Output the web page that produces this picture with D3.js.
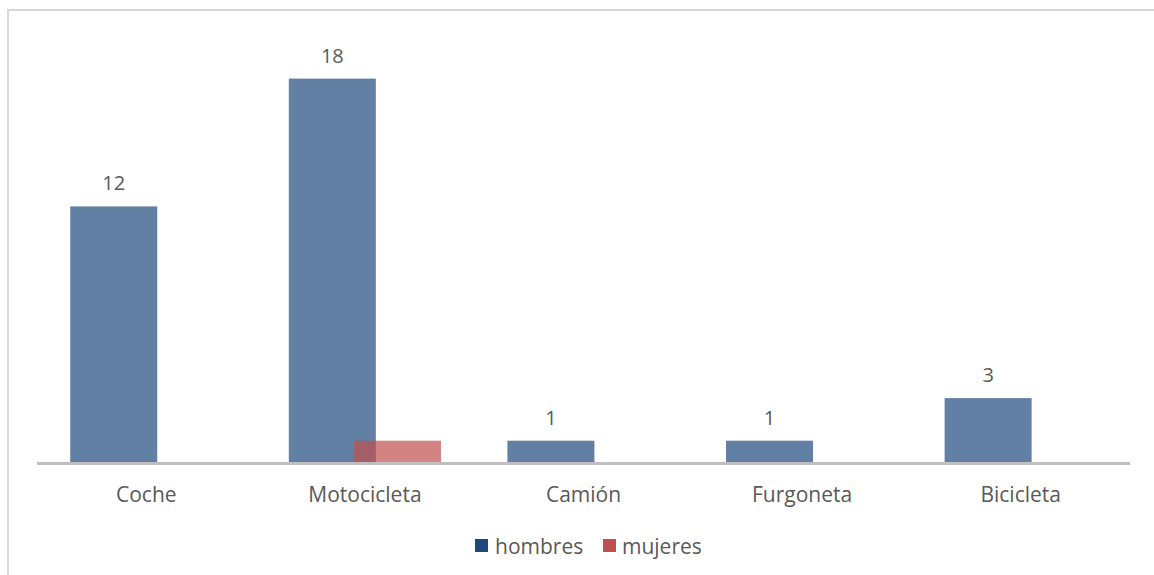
<!DOCTYPE html>
<html><head><meta charset="utf-8">
<script src="https://cdn.jsdelivr.net/npm/d3@7"></script>
<style>html,body{margin:0;padding:0;background:#fff;overflow:hidden}</style>
</head><body>
<svg id="chart" width="1154" height="575"></svg>
<script>
const categories = ["Coche", "Motocicleta", "Camión", "Furgoneta", "Bicicleta"];
const hombres = [12, 18, 1, 1, 3];
const mujeres = [0, 1, 0, 0, 0];
const seriesNames = ["hombres", "mujeres"];
const seriesColors = ["#1f497d", "#c0504d"];

const svg = d3.select("#chart");
const W = 1154, H = 575;
const font = "'Open Sans', sans-serif";
const textColor = "#595959";

// outer border (chart area frame, clipped at right/bottom)
svg.append("rect").attr("x", 8).attr("y", 10).attr("width", W + 10).attr("height", H + 10)
  .attr("fill", "none").attr("stroke", "#d9d9d9").attr("stroke-width", 2);

const x = d3.scaleBand().domain(categories).range([37, 1130]);
const y = d3.scaleLinear().domain([0, 20]).range([462, 36]);
const barW = x.bandwidth() * 0.398;
const off = x.bandwidth() * 0.149;

const series = [hombres, mujeres];
series.forEach((vals, si) => {
  const dx = si === 0 ? -off : off;
  svg.append("g").selectAll("rect").data(categories).join("rect")
    .attr("x", (c) => x(c) + x.bandwidth() / 2 + dx - barW / 2)
    .attr("y", (c, i) => y(vals[i]))
    .attr("width", barW)
    .attr("height", (c, i) => y(0) - y(vals[i]))
    .attr("fill", seriesColors[si])
    .attr("fill-opacity", 0.7);
});

// value labels (hombres)
svg.append("g").selectAll("text").data(categories).join("text")
  .attr("x", (c) => x(c) + x.bandwidth() / 2 - off)
  .attr("y", (c, i) => y(hombres[i]) - 16)
  .attr("text-anchor", "middle")
  .attr("font-family", font).attr("font-size", 20).attr("fill", textColor)
  .text((c, i) => hombres[i]);

// x axis
const xAxis = svg.append("g").attr("transform", `translate(0,${y(0)})`)
  .call(d3.axisBottom(x).tickSize(0).tickPadding(0));
xAxis.select(".domain").attr("stroke", "#bfbfbf").attr("stroke-width", 3)
  .attr("d", `M37,1.5H1130`);
xAxis.selectAll(".tick text").attr("dy", null).attr("y", 40)
  .attr("font-family", font).attr("font-size", 21).attr("fill", textColor);

// legend
const legendItems = [{x: 475, tx: 495}, {x: 603, tx: 622}];
const lg = svg.append("g");
seriesNames.forEach((n, i) => {
  lg.append("rect").attr("x", legendItems[i].x).attr("y", 539).attr("width", 13).attr("height", 13)
    .attr("fill", seriesColors[i]);
  lg.append("text").attr("x", legendItems[i].tx).attr("y", 554)
    .attr("font-family", font).attr("font-size", 21).attr("fill", textColor).text(n);
});
</script>
</body></html>
